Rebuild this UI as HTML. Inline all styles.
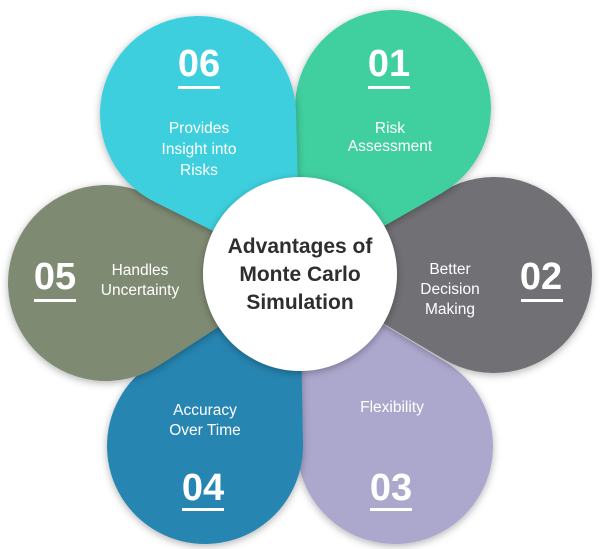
<!DOCTYPE html>
<html><head><meta charset="utf-8"><style>
html,body{margin:0;padding:0;background:#fff;}
svg{display:block;}
text{font-family:"Liberation Sans",sans-serif;fill:#fff;text-anchor:middle;}
.n{font-size:38px;font-weight:bold;}
.t{font-size:15.5px;}
.c{font-size:21px;font-weight:bold;fill:#2e2e2e;}
</style></head><body>
<svg id="s" width="600" height="549" viewBox="0 0 600 549" xmlns="http://www.w3.org/2000/svg">
<defs><filter id="sh" x="-30%" y="-30%" width="160%" height="160%"><feDropShadow dx="0" dy="2" stdDeviation="4" flood-opacity="0.3"/></filter></defs>
<g id="petals"></g>
<circle cx="300" cy="274" r="97" fill="#fff" filter="url(#sh)"/>
<text class="c" x="300" y="253">Advantages of</text>
<text class="c" x="300" y="281">Monte Carlo</text>
<text class="c" x="300" y="309">Simulation</text>

<text class="n" x="199" y="76">06</text><rect x="178" y="86" width="42" height="3" fill="#fff"/>
<text class="t" x="199" y="133">Provides</text><text class="t" x="199" y="154">Insight into</text><text class="t" x="199" y="175">Risks</text>

<text class="n" x="389" y="76">01</text><rect x="368" y="86" width="42" height="3" fill="#fff"/>
<text class="t" x="390" y="133">Risk</text><text class="t" x="390" y="151">Assessment</text>

<text class="n" x="541" y="289">02</text><rect x="521" y="299" width="42" height="3" fill="#fff"/>
<text class="t" x="450" y="274">Better</text><text class="t" x="450" y="294">Decision</text><text class="t" x="450" y="314">Making</text>

<text class="n" x="55" y="289">05</text><rect x="34" y="299" width="42" height="3" fill="#fff"/>
<text class="t" x="140" y="275">Handles</text><text class="t" x="140" y="295">Uncertainty</text>

<text class="t" x="392" y="412">Flexibility</text>
<text class="n" x="391" y="500">03</text><rect x="370" y="508" width="42" height="3" fill="#fff"/>

<text class="t" x="205" y="415">Accuracy</text><text class="t" x="205" y="435">Over Time</text>
<text class="n" x="203" y="500">04</text><rect x="182" y="508" width="42" height="3" fill="#fff"/>
</svg>
<script>
(function(){
var P=[
 [395,446,98,"#aca7cd"],
 [205,446,98,"#2585b1"],
 [494,275,98,"#6f6f74"],
 [106,283,98,"#7f8a73"],
 [393,108,98,"#41cf9e"],
 [198,114,98,"#3dcfdd"]
];
var cx=300,cy=274,g=document.getElementById('petals'),ns="http://www.w3.org/2000/svg";
P.forEach(function(p){
 var x=p[0],y=p[1],r=p[2];
 var dx=cx-x,dy=cy-y,d=Math.sqrt(dx*dx+dy*dy);
 var a=Math.atan2(dy,dx),t=Math.acos(r/d);
 var x1=x+r*Math.cos(a+t),y1=y+r*Math.sin(a+t),x2=x+r*Math.cos(a-t),y2=y+r*Math.sin(a-t);
 var path="M"+cx+","+cy+" L"+x1+","+y1+" A"+r+","+r+" 0 1,1 "+x2+","+y2+" Z";
 var e=document.createElementNS(ns,"path");
 e.setAttribute("d",path);e.setAttribute("fill",p[3]);e.setAttribute("filter","url(#sh)");
 g.appendChild(e);
});
})();
</script>
</body></html>
